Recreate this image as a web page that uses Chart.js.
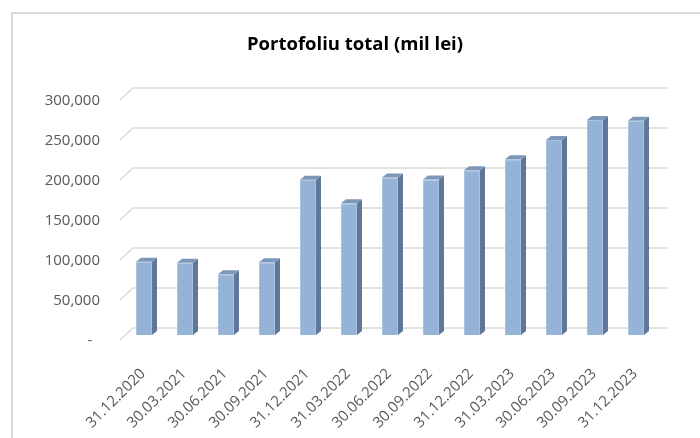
<!DOCTYPE html>
<html>
<head>
<meta charset="utf-8">
<script src="https://cdn.jsdelivr.net/npm/chart.js@4.4.0/dist/chart.umd.min.js"></script>
<style>
  html, body { margin: 0; padding: 0; background: #fff; }
  #wrap { width: 700px; height: 438px; }
</style>
</head>
<body>
<div id="wrap"><canvas id="grafica" width="700" height="438"></canvas></div>
<script>
const perioade = ["31.12.2020", "30.03.2021", "30.06.2021", "30.09.2021", "31.12.2021", "31.03.2022",
  "30.06.2022", "30.09.2022", "31.12.2022", "31.03.2023", "30.06.2023", "30.09.2023", "31.12.2023"];
const portofoliu = [91600, 90400, 75800, 91000, 194000, 164600, 197000, 194500, 205800, 219600, 243700, 268700, 267900];
const pasiAxa = [0, 50000, 100000, 150000, 200000, 250000, 300000];
const titlu = 'Portofoliu total (mil lei)';

// rama, titlu, grila "3D" si fetele laterale ale coloanelor
const efect3D = {
  id: 'efect3D',
  beforeDraw(chart) {
    const c = chart.ctx;
    c.save();
    c.strokeStyle = '#d9d9d9';
    c.lineWidth = 2;
    c.beginPath();
    c.moveTo(12, 438); c.lineTo(12, 13); c.lineTo(700, 13);
    c.stroke();
    c.fillStyle = '#000';
    c.font = 'bold 18.5px "Open Sans"';
    c.textAlign = 'center';
    c.textBaseline = 'middle';
    c.fillText(titlu, 355, 45);
    c.restore();
  },
  beforeDatasetsDraw(chart) {
    const c = chart.ctx, y = chart.scales.y, a = chart.chartArea;
    c.save();
    c.strokeStyle = '#d9d9d9';
    c.lineWidth = 1.5;
    pasiAxa.forEach(v => {
      const py = y.getPixelForValue(v);
      c.beginPath();
      c.moveTo(a.left - 3.5, py + 5);
      c.lineTo(a.left + 9.5, py - 7);
      c.lineTo(a.right + 10.5, py - 7);
      c.stroke();
    });
    c.restore();
  },
  afterDatasetsDraw(chart) {
    const c = chart.ctx;
    c.save();
    chart.getDatasetMeta(0).data.forEach(bar => {
      const { x, y, base, width } = bar.getProps(['x', 'y', 'base', 'width'], true);
      const l = x - width / 2, r = x + width / 2;
      c.fillStyle = '#60779a';
      c.beginPath();
      c.moveTo(r, y); c.lineTo(r + 5, y - 4); c.lineTo(r + 5, base - 4); c.lineTo(r, base);
      c.closePath(); c.fill();
      c.fillStyle = '#7d97ba';
      c.beginPath();
      c.moveTo(l, y); c.lineTo(l + 5, y - 4); c.lineTo(r + 5, y - 4); c.lineTo(r, y);
      c.closePath(); c.fill();
    });
    c.restore();
  }
};

const ctx = document.getElementById('grafica').getContext('2d');
new Chart(ctx, {
  type: 'bar',
  data: {
    labels: perioade,
    datasets: [{
      data: portofoliu,
      backgroundColor: '#95b3d7',
      borderColor: '#a9c2e0',
      borderWidth: 1,
      barPercentage: 0.39,
      categoryPercentage: 1
    }]
  },
  options: {
    responsive: false,
    animation: false,
    layout: { padding: { left: 0, right: 43.5, top: 95, bottom: 0 } },
    plugins: {
      legend: { display: false },
      tooltip: { enabled: false },
      title: { display: false }
    },
    scales: {
      x: {
        grid: { display: false, drawTicks: false },
        border: { display: false },
        ticks: {
          autoSkip: false,
          minRotation: 45,
          maxRotation: 45,
          padding: 30,
          labelOffset: -1,
          color: '#595959',
          font: { family: 'Open Sans', size: 15 }
        },
        afterFit(scale) { scale.height = 103; }
      },
      y: {
        min: 0,
        max: 300000,
        grid: { display: false, drawTicks: false },
        border: { display: false },
        ticks: {
          stepSize: 50000,
          padding: 23.5,
          labelOffset: 6,
          color: '#595959',
          font: { family: 'Open Sans', size: 15 },
          callback: v => v === 0 ? '-  ' : v.toLocaleString('en-US')
        },
        afterFit(scale) { scale.width = 123.5; }
      }
    }
  },
  plugins: [efect3D]
});
</script>
</body>
</html>
